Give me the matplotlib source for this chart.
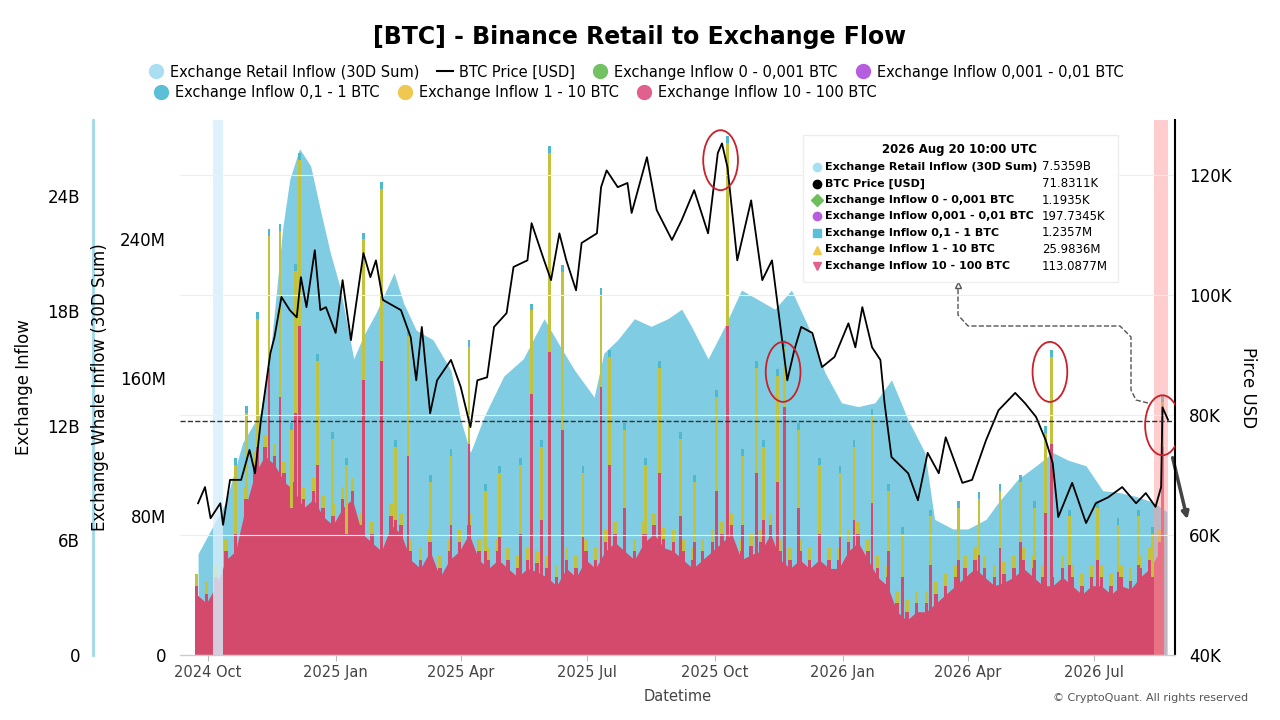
import numpy as np
import pandas as pd
import matplotlib
matplotlib.use('Agg')
import matplotlib.pyplot as plt
from matplotlib.patches import Ellipse, Rectangle
from matplotlib.lines import Line2D

# day offsets are counted from 2024-10-01
t0 = pd.Timestamp('2024-10-01')

# Exchange Retail Inflow (30D Sum), billions
area_day = [-7, 13, 25, 38, 45, 54, 59, 66, 74, 81, 88, 95, 105, 112, 121, 134, 141, 150, 162, 175,
            182, 189, 199, 213, 227, 242, 254, 264, 278, 285, 295, 307, 319, 331, 341,
            348, 360, 372, 384, 396, 408, 420, 432, 444, 456, 468, 480, 492, 504, 516,
            523, 536, 547, 560, 569, 583, 596, 608, 619, 632, 644, 656, 668, 680, 690]
area_val = [5.3, 8.0, 11.1, 12.7, 15.8, 22.4, 24.9, 26.5, 25.6, 23.3, 21.1, 19.3, 15.5, 16.7, 17.9,
            20.0, 18.4, 17.0, 16.5, 14.9, 12.3, 10.6, 12.5, 14.6, 15.5, 17.6, 16.1, 14.9, 13.5, 15.8,
            16.5, 17.6, 17.2, 17.6, 18.1,
            17.2, 15.5, 17.2, 19.1, 18.6, 18.1, 19.1, 17.2, 14.8, 13.2, 13.0, 13.2, 14.4, 12.3, 10.6,
            7.1, 6.6, 6.6, 7.1, 8.0, 9.2, 9.9, 10.6, 10.2, 9.9, 8.6, 8.5, 8.3, 8.0, 7.5]

# BTC price, thousands USD
price_day = [-7, -2, 2, 9, 11, 16, 24, 30, 34, 38, 45, 48, 53, 59, 64, 67, 71, 77, 81, 85, 92, 97,
             103, 112, 117, 121, 126, 139, 146, 150, 154, 160, 165, 175, 182, 189, 194, 201, 206,
             215, 220, 230, 233, 242, 247, 253, 258, 265, 269, 280, 283, 287, 295, 302, 305, 316,
             323, 334, 341, 350, 360, 367, 370, 374, 381, 391, 399, 406, 413, 417, 422, 427, 435,
             442, 451, 461, 466, 471, 478, 484, 487, 492, 504, 511, 518, 526, 531, 543, 550, 560,
             569, 581, 588, 596, 603, 608, 612, 622, 632, 639, 648, 658, 668, 675, 682, 686, 687, 691]
price_val = [65.3, 68, 62.8, 65.3, 61.7, 69.2, 69.2, 74.2, 70.3, 78.7, 90.3, 93, 99.7, 97.5, 96.3,
             103, 98, 107.5, 97.5, 98, 93.7, 102.5, 92.5, 107, 103, 105.8, 99.2, 97.5, 93, 85.8,
             94.7, 80.3, 85.8, 89.2, 84.7, 78, 85.8, 86.3, 94.7, 97, 104.7, 105.8, 112, 105.8,
             102.5, 110.3, 105.8, 100.8, 108.7, 110.3, 118, 120.8, 118, 118.7, 113.7, 123, 114.2,
             109.2, 112.5, 117.5, 110.3, 123.7, 125.3, 121.3, 105.8, 115.8, 102.5, 105.8, 93,
             85.8, 90.8, 94.7, 93.7, 88, 89.7, 95.3, 91.3, 98, 91.3, 89.2, 82, 73, 70.3, 65.8,
             73.7, 70.3, 76.3, 68.7, 69.2, 75.8, 80.8, 83.7, 82, 79.7, 75.8, 72, 63, 68.7, 62,
             65.3, 66.3, 68, 65.3, 67, 64.7, 68, 81.3, 79.2]

# weekly level of the 10 - 100 BTC inflow mass, millions
red_week = [35, 30, 40, 55, 60, 85, 105, 115, 110, 100, 95, 85, 90, 80, 75, 85, 90, 70, 65, 60,
            75, 70, 55, 50, 60, 45, 55, 60, 70, 55, 50, 55, 50, 45, 50, 48, 45, 40, 50, 45,
            55, 50, 60, 65, 60, 55, 65, 70, 62, 60, 55, 50, 55, 60, 65, 70, 55, 58, 60, 70,
            55, 50, 55, 50, 55, 50, 50, 60, 65, 55, 45, 40, 25, 20, 25, 25, 30, 35, 40, 45,
            50, 45, 40, 42, 45, 50, 45, 40, 40, 45, 40, 35, 40, 40, 35, 40, 38, 45, 50, 60]

# spikes: day, 10-100 BTC top, 1-10 BTC top (millions)
spike_day = [20, 28, 36, 44, 52, 60, 63, 66, 79, 90, 100, 112, 125, 135, 144, 160, 175, 188, 200,
             210, 225, 233, 240, 246, 255, 270, 283, 289, 300, 315, 325, 340, 350, 366, 374, 385,
             395, 400, 410, 415, 425, 440, 455, 465, 478, 490, 500, 520, 540, 555, 570, 585, 595,
             603, 607, 620, 640, 655, 670, 680, 687]
spike_red = [70, 90, 120, 166, 149, 85, 140, 190, 110, 80, 70, 159, 170, 78, 115, 65, 75, 122, 60,
             68, 70, 151, 78, 175, 130, 68, 155, 110, 85, 70, 105, 80, 65, 95, 190, 75, 105, 78,
             100, 143, 85, 70, 68, 78, 88, 60, 45, 52, 55, 58, 62, 65, 55, 82, 122, 52, 55, 48,
             52, 45, 120]
spike_yel = [110, 140, 194, 242, 245, 130, 222, 286, 170, 125, 110, 240, 269, 120, 184, 100, 115,
             178, 95, 105, 110, 199, 120, 290, 221, 105, 208, 172, 130, 110, 166, 125, 100, 149,
             296, 115, 166, 120, 161, 178, 130, 110, 105, 120, 138, 95, 70, 80, 85, 90, 95, 100,
             85, 128, 172, 80, 85, 75, 80, 70, 146]

tooltip_title = '2026 Aug 20 10:00 UTC'
tooltip_rows = [('Exchange Retail Inflow (30D Sum)', '7.5359B', '#a9dff0', 'o'),
                ('BTC Price [USD]', '71.8311K', 'black', 'o'),
                ('Exchange Inflow 0 - 0,001 BTC', '1.1935K', '#6cbf5a', 'D'),
                ('Exchange Inflow 0,001 - 0,01 BTC', '197.7345K', '#b65de0', 'o'),
                ('Exchange Inflow 0,1 - 1 BTC', '1.2357M', '#5bbfd8', 's'),
                ('Exchange Inflow 1 - 10 BTC', '25.9836M', '#f0c850', '^'),
                ('Exchange Inflow 10 - 100 BTC', '113.0877M', '#e0608e', 'v')]

AREA_C = '#80cde3'
RED_C = '#d44a6c'
YEL_C = '#c3c23c'
TEAL_C = '#4fb8cc'

def days(lst):
    return t0 + pd.to_timedelta(lst, unit='D')

fig = plt.figure(figsize=(12.8, 7.2), dpi=100)
ax = fig.add_axes([180/1280, 65/720, 995/1280, 535/720])
axw = ax.twinx()
axp = ax.twinx()

# retail area on outer left axis
ax.fill_between(days(area_day), 0, area_val, color=AREA_C, lw=0)
ax.set_ylim(0, 28)
ax.set_yticks([0, 6, 12, 18, 24])
ax.set_yticklabels(['0', '6B', '12B', '18B', '24B'])
ax.spines['left'].set_position(('outward', 63))
ax.spines['left'].set_color('#9fd8ea')
ax.spines['left'].set_linewidth(2)
for s in ['top', 'right', 'bottom']:
    ax.spines[s].set_visible(False)
ax.tick_params(axis='y', length=0, labelsize=12, pad=9)
ax.set_ylabel('Exchange Inflow', fontsize=12, labelpad=10)

# whale bars
wdates = pd.date_range('2024-09-23', periods=len(red_week), freq='7D')
axw.fill_between(wdates, 0, red_week, color=RED_C, lw=0)
axw.bar(wdates, np.array(red_week) + 12, width=2.5, color=YEL_C, lw=0)
axw.bar(wdates, np.array(red_week) + 5, width=2.5, color=RED_C, lw=0)
sd = days(spike_day)
axw.bar(sd, np.array(spike_yel) + 4, width=2, color=TEAL_C, lw=0)
axw.bar(sd, spike_yel, width=2, color=YEL_C, lw=0)
axw.bar(sd, spike_red, width=2, color=RED_C, lw=0)
axw.set_ylim(0, 309)
axw.yaxis.tick_left()
axw.yaxis.set_label_position('left')
axw.set_yticks([0, 80, 160, 240])
axw.set_yticklabels(['0', '80M', '160M', '240M'])
axw.tick_params(axis='y', length=0, labelsize=12, pad=10)
axw.set_ylabel('Exchange Whale Inflow (30D Sum)', fontsize=12, labelpad=8)
for s in ['top', 'right', 'left', 'bottom']:
    axw.spines[s].set_visible(False)

# price
axp.plot(days(price_day), price_val, color='black', lw=1.3)
axp.set_ylim(40, 129.2)
axp.set_yticks([40, 60, 80, 100, 120])
axp.set_yticklabels(['40K', '60K', '80K', '100K', '120K'])
axp.tick_params(axis='y', labelsize=12, length=0, pad=10)
axp.set_ylabel('Pirce USD', fontsize=12, rotation=270, labelpad=18)
for s in ['top', 'left', 'bottom']:
    axp.spines[s].set_visible(False)
axp.spines['right'].set_linewidth(1.5)
axp.grid(axis='y', color='#eeeeee', lw=0.8)
axp.axhline(79, color='#333333', ls='--', lw=1)

# highlight bands
axp.axvspan(days([4])[0], days([11])[0], color='#d6eefc', alpha=0.8, lw=0, zorder=0)
axp.axvspan(days([681])[0], days([691])[0], color='#ff9c9c', alpha=0.5, lw=0, zorder=0)

# red circles
for d, pv in [(369, 122.5), (414, 87.2), (606, 87.2), (687, 78.3)]:
    axp.add_patch(Ellipse((days([d])[0], pv), width=25, height=10, fill=False,
                          ec='#cc1f2a', lw=1.3, zorder=5))

ax.set_xlim(pd.Timestamp('2024-09-11'), pd.Timestamp('2026-08-28'))
ticks = pd.to_datetime(['2024-10-01', '2025-01-01', '2025-04-01', '2025-07-01',
                        '2025-10-01', '2026-01-01', '2026-04-01', '2026-07-01'])
ax.set_xticks(ticks)
ax.set_xticklabels([t.strftime('%Y %b') for t in ticks], fontsize=10.5, color='#444444')
ax.tick_params(axis='x', length=4, color='#bbbbbb')
ax.set_xlabel('Datetime', fontsize=10.5, color='#444444', labelpad=6)
fig.add_artist(Line2D([180/1280, 1175/1280], [65/720, 65/720], transform=fig.transFigure,
                      color='#cccccc', lw=1))

# title and legends
fig.text(0.5, 1 - 37/720, '[BTC] - Binance Retail to Exchange Flow', ha='center', va='center',
         fontsize=17, fontweight='bold')
h1 = [Line2D([], [], ls='', marker='o', ms=10, color='#a9dff0'),
      Line2D([], [], color='black', lw=1.5),
      Line2D([], [], ls='', marker='o', ms=10, color='#72c264'),
      Line2D([], [], ls='', marker='o', ms=10, color='#b65de0')]
l1 = ['Exchange Retail Inflow (30D Sum)', 'BTC Price [USD]',
      'Exchange Inflow 0 - 0,001 BTC', 'Exchange Inflow 0,001 - 0,01 BTC']
h2 = [Line2D([], [], ls='', marker='o', ms=10, color='#5bbfd8'),
      Line2D([], [], ls='', marker='o', ms=10, color='#f0c850'),
      Line2D([], [], ls='', marker='o', ms=10, color='#e0608e')]
l2 = ['Exchange Inflow 0,1 - 1 BTC', 'Exchange Inflow 1 - 10 BTC', 'Exchange Inflow 10 - 100 BTC']
fig.legend(h1, l1, loc='center', bbox_to_anchor=(636/1280, 1 - 72/720), ncol=4,
           frameon=False, fontsize=10.5, handlelength=1.1, handletextpad=0.4, columnspacing=1.2)
fig.legend(h2, l2, loc='center', bbox_to_anchor=(515/1280, 1 - 93/720), ncol=3,
           frameon=False, fontsize=10.5, handlelength=1.1, handletextpad=0.4, columnspacing=1.2)

# tooltip box
fig.add_artist(Rectangle((803/1280, 1 - 282/720), 315/1280, 147/720, transform=fig.transFigure,
                         fc='white', ec='#eeeeee', lw=1, alpha=0.95, zorder=10))
fig.text(960/1280, 1 - 150/720, tooltip_title, ha='center', va='center', fontsize=8.5,
         fontweight='bold', zorder=11)
for i, (lab, val, col, mk) in enumerate(tooltip_rows):
    yy = 1 - (167 + i * 16.5) / 720
    fig.add_artist(Line2D([817/1280], [yy], ls='', marker=mk, ms=6, color=col,
                          transform=fig.transFigure, zorder=11))
    fig.text(825/1280, yy, lab, ha='left', va='center', fontsize=8, fontweight='bold', zorder=11)
    fig.text(1042/1280, yy, val, ha='left', va='center', fontsize=8.5, zorder=11)

# dashed connector to tooltip
px = np.array([1148, 1136, 1131, 1131, 1120, 968, 958, 958]) / 1280
py = 1 - np.array([403, 400, 390, 337, 326, 326, 315, 288]) / 720
fig.add_artist(Line2D(px, py, transform=fig.transFigure, color='#555555', ls='--', lw=1))
fig.add_artist(Line2D([958/1280], [1 - 285/720], ls='', marker='^', ms=4, mfc='white',
                      mec='#555555', transform=fig.transFigure))
ax.annotate('', xy=(1188/1280, 1 - 522/720), xytext=(1172/1280, 1 - 455/720),
            xycoords='figure fraction', textcoords='figure fraction',
            arrowprops=dict(arrowstyle='-|>', color='#444444', lw=2.5))

fig.text(1248/1280, 1 - 698/720, '© CryptoQuant. All rights reserved', ha='right', va='center',
         fontsize=8, color='#555555')

fig.savefig('out.png', dpi=100)
